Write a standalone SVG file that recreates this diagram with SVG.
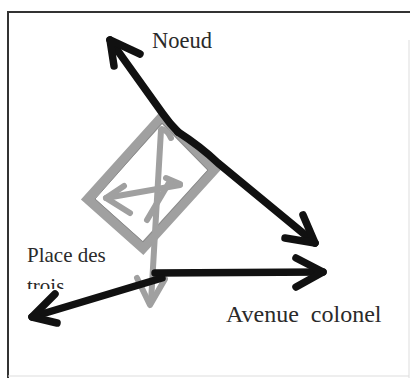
<svg xmlns="http://www.w3.org/2000/svg" width="410" height="378" viewBox="0 0 410 378">
<style>
.frame{fill:none;stroke:#333;stroke-width:2}
.blk{fill:none;stroke:#111;stroke-width:7.5;stroke-linecap:round;stroke-linejoin:round}
.gry{fill:none;stroke:#a0a0a0;stroke-width:6;stroke-linecap:round;stroke-linejoin:round}
.dia{fill:none;stroke:#a0a0a0;stroke-width:10;stroke-linejoin:miter}
.lbl{font-family:"Liberation Serif","Times New Roman",serif;fill:#2a2a2a}
</style>
<defs>
<clipPath id="cut"><rect x="0" y="0" width="410" height="289"/></clipPath>
</defs>
<rect width="410" height="378" fill="#fff"/>
<g id="frame">
<path class="frame" d="M8,378 L8,12 L410,12"/>
<path d="M409,40 L409,378 M8,376 L409,376" fill="none" stroke="#ddd" stroke-width="1"/>
</g>
<g id="node-square">
<path class="dia" d="M162,117 L214,170 L143,248 L88,199 Z"/>
<path d="M162,123 L208,170 L143,242 L95,199 Z" fill="none" stroke="#8a8a8a" stroke-width="1"/>
<path class="gry" d="M161,130 L151,302"/>
<path class="gry" d="M137,278 L150,305 L165,279"/>
<path class="gry" d="M162,129 Q168,131 171,138"/>
<path class="gry" d="M180,185 L106,198"/>
<path class="gry" d="M124,186 L106,198 L130,213"/>
<path class="gry" d="M166,178 L180,184"/>
<path class="gry" d="M170,181 L147,220"/>
</g>
<g id="connectors">
<path class="blk" d="M178,132 Q170,124 163,114 L110,40"/>
<path class="blk" d="M114,66 L110,40 L140,54"/>
<path class="blk" d="M178,132 Q200,146 218,163 L315,243"/>
<path class="blk" d="M303,215 L315,243 L285,238"/>
<path class="blk" d="M155,273 L323,272"/>
<path class="blk" d="M296,258 L323,272 L296,287"/>
<path class="blk" d="M162,278 L32,317"/>
<path class="blk" d="M55,294 L32,317 L57,323"/>
</g>
<g id="label-noeud"><text class="lbl" x="152" y="48" font-size="22.5">Noeud</text></g>
<g id="label-place">
<text class="lbl" x="27" y="262" font-size="21">Place des</text>
<text class="lbl" x="27" y="293" font-size="21" clip-path="url(#cut)">trois</text>
</g>
<g id="label-avenue"><text class="lbl" x="226" y="322" font-size="24" xml:space="preserve">Avenue  colonel</text></g>
</svg>
